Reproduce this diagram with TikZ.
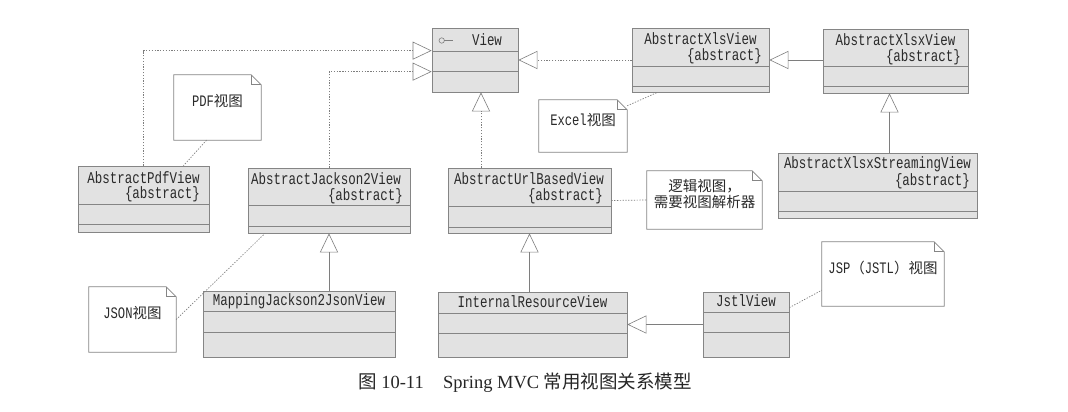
\documentclass[tikz,border=0pt]{standalone}
\usepackage{fontspec}
\setmainfont{Liberation Serif}
\newfontfamily\cjk{Noto Sans CJK SC}
\newfontfamily\monof[FakeStretch=0.76]{Liberation Mono}
\usetikzlibrary{arrows.meta,fit,calc}
\definecolor{boxline}{HTML}{858585}
\definecolor{boxfill}{HTML}{E2E2E2}
\definecolor{lnk}{HTML}{7E7E7E}
\definecolor{txt}{HTML}{2A2A2A}
\tikzset{
  clsbox/.style={draw=boxline, fill=boxfill, inner sep=0pt, line width=0.7pt},
  divl/.style={draw=boxline, line width=0.6pt},
  notebox/.style={inner sep=0pt, align=center, text=txt, font=\fontsize{14.5}{16.5}\selectfont},
  noteline/.style={draw=boxline, line width=0.7pt, line join=miter},
  lbl/.style={inner sep=0pt, text=txt, font=\monof\fontsize{16.4}{17}\selectfont},
  realiz/.style={draw=lnk, line width=0.7pt, dash pattern=on 1.3pt off 1.5pt,
    -{Triangle[open, length=19pt, width=18pt, line width=0.6pt]}},
  genl/.style={draw=lnk, line width=0.6pt,
    -{Triangle[open, length=19pt, width=18pt, line width=0.6pt]}},
  notel/.style={draw=lnk, line width=0.7pt, dash pattern=on 1.3pt off 1.5pt},
  captxt/.style={inner sep=0pt, text=black!85, font=\fontsize{18.5}{20}\selectfont},
}
\newcommand\umlcls[7]{%
  \node[clsbox, fit={(#2,#3)(#4,#5)}] (#1) {};
  \draw[divl] (#2,#6) -- (#4,#6);
  \draw[divl] (#2,#7) -- (#4,#7);
}
\newcommand\umlnote[6]{%
  \node[notebox, fit={(#2,#3)(#4,#5)}] (#1) {#6};
  \draw[noteline] (#1.north west) -- ([xshift=-10pt]#1.north east) -- ([yshift=-10pt]#1.north east) -- (#1.south east) -- (#1.south west) -- cycle;
  \draw[noteline] ([xshift=-10pt]#1.north east) -- ([xshift=-10pt,yshift=-10pt]#1.north east) -- ([yshift=-10pt]#1.north east);
}
\begin{document}
\begin{tikzpicture}[x=1pt, y=-1pt]
\useasboundingbox (0,0) rectangle (1068,412);
\fill[white] (0,0) rectangle (1068,412);

% classes
\umlcls{view}{432}{28}{518}{92}{51}{71}
\umlcls{xls}{632}{28}{769}{92}{66}{86}
\umlcls{xlsx}{823}{29}{968}{93}{66}{86}
\umlcls{stream}{778}{153}{977}{218}{191}{211}
\umlcls{pdf}{78}{166}{209}{232}{204}{224}
\umlcls{jackson}{248}{168}{410}{233}{205}{226}
\umlcls{url}{448}{168}{611}{233}{206}{227}
\umlcls{mapping}{203}{291}{395}{357}{311}{332}
\umlcls{internal}{438}{292}{627}{357}{313}{333}
\umlcls{jstl}{703}{292}{789}{357}{312}{332}

% class labels
\draw[lnk, line width=0.6pt] (441.7,40.5) circle[radius=2.7pt];
\draw[lnk, line width=0.6pt] (444.4,40.5) -- (453,40.5);
\node[lbl] (view-n) at (487,40) {View};
\node[lbl] (xls-n) at (700.5,39) {AbstractXlsView};
\node[lbl, anchor=east] (xls-a) at (762,56) {\{abstract\}};
\node[lbl] (xlsx-n) at (895.5,40) {AbstractXlsxView};
\node[lbl, anchor=east] (xlsx-a) at (961,57) {\{abstract\}};
\node[lbl] (stream-n) at (877.5,164) {AbstractXlsxStreamingView};
\node[lbl, anchor=east] (stream-a) at (970,181) {\{abstract\}};
\node[lbl] (pdf-n) at (143.5,178) {AbstractPdfView};
\node[lbl, anchor=east] (pdf-a) at (200,194) {\{abstract\}};
\node[lbl] (jackson-n) at (326,179) {AbstractJackson2View};
\node[lbl, anchor=east] (jackson-a) at (403,196) {\{abstract\}};
\node[lbl] (url-n) at (529,179) {AbstractUrlBasedView};
\node[lbl, anchor=east] (url-a) at (603,196) {\{abstract\}};
\node[lbl] (mapping-n) at (299,301) {MappingJackson2JsonView};
\node[lbl] (internal-n) at (532.5,302) {InternalResourceView};
\node[lbl] (jstl-n) at (746,301) {JstlView};

% notes
\umlnote{pdfnote}{174}{75}{261}{140}{{\monof\fontsize{16}{17}\selectfont PDF}{\cjk 视图}}
\umlnote{excelnote}{539}{100}{627}{152}{{\monof\fontsize{16}{17}\selectfont Excel}{\cjk 视图}}
\umlnote{lognote}{647}{171}{762}{229}{{\cjk 逻辑视图，}\\{\cjk 需要视图解析器}}
\umlnote{jsonnote}{89}{287}{176}{352}{{\monof\fontsize{16}{17}\selectfont JSON}{\cjk 视图}}
\umlnote{jspnote}{822}{242}{944}{306}{{\monof\fontsize{16}{17}\selectfont JSP}{\cjk （}{\monof\fontsize{16}{17}\selectfont JSTL}{\cjk ）视图}}

% relations
\draw[realiz] (pdf.north) |- ([yshift=-23pt]view.north west);
\draw[realiz] (jackson.north) |- ([yshift=-44pt]view.north west);
\draw[realiz] (xls.west) -- (view.east);
\draw[genl] (xlsx.west |- xls.east) -- (xls.east);
\coordinate (xlsxin) at ([xshift=-6pt]xlsx.south);
\draw[genl] (xlsxin |- stream.north) -- (xlsxin);
\coordinate (viewin) at ([xshift=6pt]view.south);
\draw[realiz] (viewin |- url.north) -- (viewin);
\draw[genl] (jackson.south |- mapping.north) -- (jackson.south);
\draw[genl] (url.south |- internal.north) -- (url.south);
\draw[genl] (jstl.west) -- (internal.east);

% note links
\draw[notel] ([xshift=-11pt]pdfnote.south) -- ([xshift=40pt]pdf.north);
\draw[notel] ([yshift=-6pt]excelnote.north east) -- ([xshift=-43pt]xls.south);
\draw[notel] (url.east) -- (lognote.west);
\draw[notel] (jsonnote.east) -- ([xshift=-64pt]jackson.south);
\draw[notel] ([yshift=-16pt]jstl.north east) -- ([yshift=16pt]jspnote.south west);

% caption
\node[captxt, anchor=base west] (cap1) at (358,388) {{\cjk 图} 10-11};
\node[captxt, anchor=base west] (cap2) at (443,388) {Spring MVC {\cjk 常用视图关系模型}};
\end{tikzpicture}
\end{document}
